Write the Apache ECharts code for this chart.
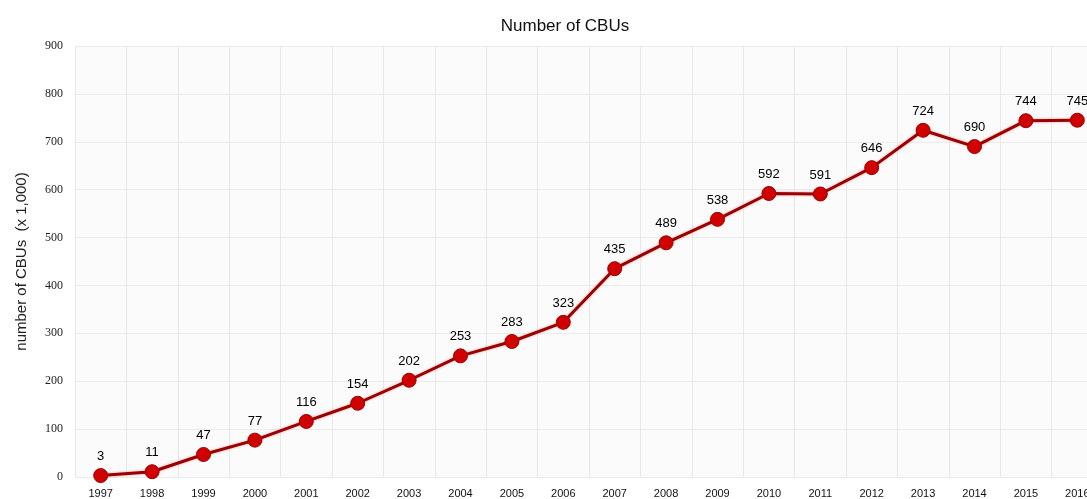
<!DOCTYPE html>
<html>
<head>
<meta charset="utf-8">
<script src="https://cdn.jsdelivr.net/npm/echarts@6/dist/echarts.min.js"></script>
<style>
  html, body { margin: 0; padding: 0; background: #fff; overflow: hidden; }
  #main { width: 1103px; height: 499px; }
</style>
</head>
<body>
<div id="main"></div>
<script>
const years = ['1997', '1998', '1999', '2000', '2001', '2002', '2003', '2004', '2005', '2006',
  '2007', '2008', '2009', '2010', '2011', '2012', '2013', '2014', '2015', '2016']
const cbus = [3, 11, 47, 77, 116, 154, 202, 253, 283, 323,
  435, 489, 538, 592, 591, 646, 724, 690, 744, 745]

// the plot runs past the right edge of the window, so the chart is wider than 1087
const chart = echarts.init(document.getElementById('main'))
chart.setOption({
  animation: false,
  title: {
    text: 'Number of CBUs',
    left: 560,
    textAlign: 'center',
    top: 13,
    textStyle: {
      fontFamily: 'Liberation Sans',
      fontWeight: 'normal',
      fontSize: 17,
      color: '#111'
    }
  },
  grid: {
    top: 46,
    left: 75,
    right: 0,
    bottom: 19,
    show: true,
    backgroundColor: '#fbfbfb',
    borderWidth: 0
  },
  xAxis: {
    type: 'category',
    data: years,
    boundaryGap: true,
    axisLine: { show: false },
    axisTick: { show: false },
    axisLabel: {
      margin: 11,
      fontFamily: 'Liberation Sans',
      fontSize: 11,
      color: '#111'
    },
    splitLine: { show: true, lineStyle: { color: '#e8e8e8', width: 1 } }
  },
  yAxis: {
    type: 'value',
    min: 0,
    max: 900,
    interval: 100,
    name: 'number of CBUs  (x 1,000)',
    nameLocation: 'middle',
    nameGap: 46,
    nameTextStyle: {
      fontFamily: 'Liberation Sans',
      fontSize: 15,
      color: '#222'
    },
    axisLine: { show: false },
    axisTick: { show: false },
    axisLabel: {
      margin: 12,
      fontFamily: 'Liberation Serif',
      fontSize: 12,
      color: '#222'
    },
    splitLine: { show: true, lineStyle: { color: '#ececec', width: 1 } }
  },
  series: [{
    type: 'line',
    data: cbus,
    symbol: 'circle',
    symbolSize: 14,
    lineStyle: { color: '#990000', width: 3, shadowColor: 'rgba(220,0,0,0.35)', shadowBlur: 3 },
    itemStyle: { color: '#d00000', borderColor: '#990000', borderWidth: 1 },
    label: {
      show: true,
      position: 'top',
      distance: 5,
      fontFamily: 'Liberation Sans',
      fontSize: 13,
      color: '#000'
    }
  }]
})
</script>
</body>
</html>
